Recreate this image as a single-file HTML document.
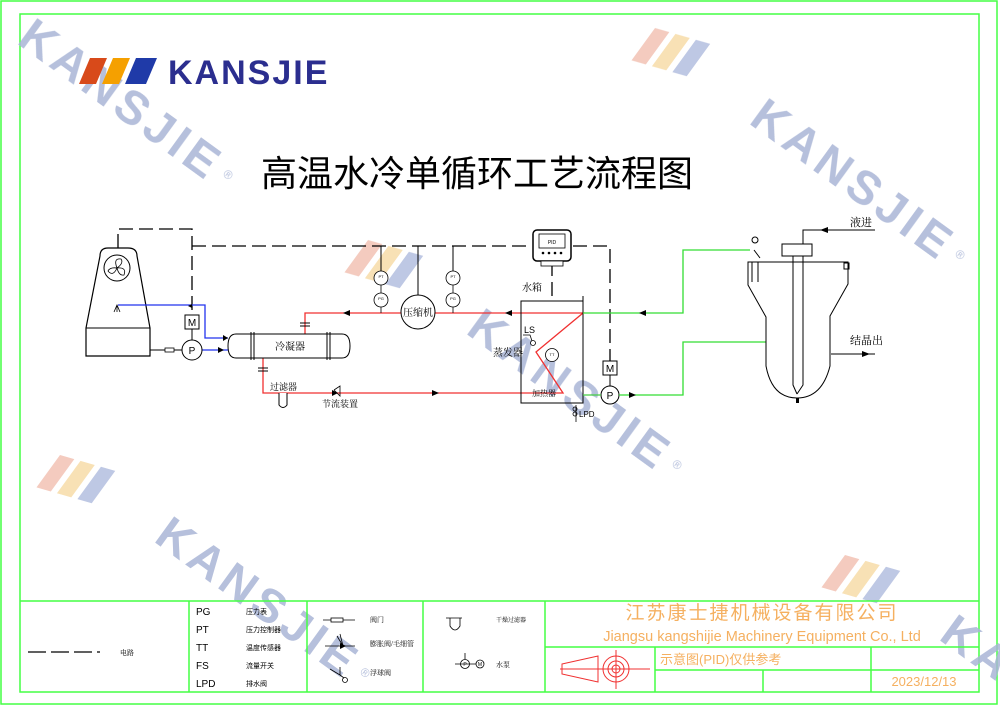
<!DOCTYPE html>
<html><head><meta charset="utf-8"><style>
html,body{margin:0;padding:0;background:#fff;width:1000px;height:706px;overflow:hidden}
svg{display:block}
text{font-family:"Liberation Sans","Noto Sans CJK SC",sans-serif}
.s{font-family:"Liberation Serif","Noto Serif CJK SC",serif}
.wm{font-family:"Liberation Sans",sans-serif;font-weight:bold;fill:#a9b5d6;font-size:47px;letter-spacing:5px}
</style></head><body>
<svg width="1000" height="706" viewBox="0 0 1000 706" xmlns="http://www.w3.org/2000/svg" overflow="hidden">
<defs>
<g id="st"><polygon points="0,0 14,0 14,40 0,40" fill="#f2c2b4" transform="skewY(-20)"/><polygon points="20,0 34,0 34,40 20,40" fill="#f7dca8" transform="skewY(-20)"/><polygon points="40,0 54,0 54,40 40,40" fill="#b3bedf" transform="skewY(-20)"/></g>
</defs>
<!-- frames -->
<rect x="1" y="1" width="996" height="703" fill="none" stroke="#4f4" stroke-width="1.5"/>
<rect x="20" y="14" width="959" height="678" fill="none" stroke="#4f4" stroke-width="1.5"/>

<!-- watermarks -->
<g opacity="0.85">
<g transform="translate(38,12) rotate(36)"><text class="wm" x="0" y="38">KANSJIE</text><text x="245" y="24" font-size="12" fill="#a9b5d6">®</text></g>
<g transform="translate(655,28) rotate(36)"><use href="#st"/></g>
<g transform="translate(770,92) rotate(36)"><text class="wm" x="0" y="38">KANSJIE</text><text x="245" y="24" font-size="12" fill="#a9b5d6">®</text></g>
<g transform="translate(368,240) rotate(36)"><use href="#st"/></g>
<g transform="translate(487,302) rotate(36)"><text class="wm" x="0" y="38">KANSJIE</text><text x="245" y="24" font-size="12" fill="#a9b5d6">®</text></g>
<g transform="translate(60,455) rotate(36)"><use href="#st"/></g>
<g transform="translate(175,510) rotate(36)"><text class="wm" x="0" y="38">KANSJIE</text><text x="245" y="24" font-size="12" fill="#a9b5d6">®</text></g>
<g transform="translate(845,555) rotate(36)"><use href="#st"/></g>
<g transform="translate(960,608) rotate(36)"><text class="wm" x="0" y="38">KANSJIE</text></g>
</g>

<!-- logo -->
<polygon points="90,58 107,58 96,84 79,84" fill="#d84a1a"/>
<polygon points="113,58 130,58 119,84 102,84" fill="#f5a000"/>
<polygon points="136,58 157,58 146,84 125,84" fill="#1f3aa8"/>
<text x="168" y="84" font-size="34" font-weight="bold" fill="#2b2e8f" letter-spacing="2">KANSJIE</text>

<!-- title -->
<text x="477" y="186" font-size="36" text-anchor="middle" font-family="'Liberation Sans','Noto Sans CJK SC',sans-serif">高温水冷单循环工艺流程图</text>

<!-- dashed electrical -->
<g stroke="#000" stroke-width="1.3" fill="none" stroke-dasharray="14,6">
<path d="M118,248 V229 H192 V315"/>
<path d="M192,246 H530"/>
<path d="M573,246 H610 V361"/>
<path d="M552,262 V301"/>
</g>
<g stroke="#000" stroke-width="1" fill="none">
<path d="M381,246 V271 M453,246 V271 M418,246 V295"/>
</g>

<!-- cooling tower -->
<path d="M100,256 Q100,248 108,248 L128,248 Q137,248 137,256 L150,328 L150,356 L86,356 L86,328 Z" fill="#fff" stroke="#000" stroke-width="1.2"/>
<line x1="86" y1="328" x2="150" y2="328" stroke="#000"/>
<circle cx="117" cy="268" r="13" fill="none" stroke="#000"/>
<path d="M117,268 q-4,-10 4,-9 q3,4 -4,9 q10,-1 7,7 q-5,1 -7,-7 q-4,9 -9,3 q2,-4 9,-3" fill="none" stroke="#000" stroke-width="0.8"/>
<path d="M114,312 L117,305 L120,312 M117,305 V312" stroke="#000" fill="none" stroke-width="0.8"/>
<path d="M118,305 H205 V338 H228" stroke="#2233ee" stroke-width="1.3" fill="none"/>
<path d="M150,350 H182" stroke="#000" stroke-width="1" fill="none"/>
<path d="M202,350 H228" stroke="#2233ee" stroke-width="1.3" fill="none"/>
<path d="M192,304 l-4,2 l4,2z" fill="#000"/>
<polygon points="218,347 224,350 218,353" fill="#000"/>
<polygon points="223,335 228,338 223,341" fill="#000"/>
<rect x="165" y="348" width="9" height="4" fill="#fff" stroke="#000" stroke-width="0.8"/>
<rect x="185" y="315" width="14" height="14" fill="#fff" stroke="#000"/><text x="192" y="326" font-size="10" text-anchor="middle">M</text>
<line x1="192" y1="329" x2="192" y2="340" stroke="#000"/>
<circle cx="192" cy="350" r="10" fill="#fff" stroke="#000"/><text x="192" y="354" font-size="10" text-anchor="middle">P</text>

<!-- red refrigerant -->
<g stroke="#f03030" stroke-width="1.3" fill="none">
<path d="M305,334 V313 H583 L536,352 L563,393 H263 V358"/>
</g>
<polygon points="350,310 343,313 350,316" fill="#000"/>
<polygon points="512,310 505,313 512,316" fill="#000"/>
<polygon points="432,390 439,393 432,396" fill="#000"/>
<g stroke="#000" stroke-width="1"><line x1="300" y1="323" x2="310" y2="323"/><line x1="300" y1="326" x2="310" y2="326"/><line x1="258" y1="368" x2="268" y2="368"/><line x1="258" y1="371" x2="268" y2="371"/></g>
<path d="M236,334 H342 Q350,334 350,346 Q350,358 342,358 H236 Q228,358 228,346 Q228,334 236,334Z" fill="#fff" stroke="#000"/>
<line x1="251" y1="332" x2="251" y2="360" stroke="#000"/><line x1="254" y1="332" x2="254" y2="360" stroke="#000"/>
<line x1="327" y1="332" x2="327" y2="360" stroke="#000"/><line x1="330" y1="332" x2="330" y2="360" stroke="#000"/>
<text x="290" y="350" font-size="10" text-anchor="middle" class="s">冷凝器</text>
<path d="M279,393 V405 Q283,410 287,405 V393" fill="#fff" stroke="#000"/>
<text x="270" y="390" font-size="9" class="s">过滤器</text>
<path d="M334,390 L340,396 L340,386 L334,390" fill="none" stroke="#000" stroke-width="0.8"/>
<polygon points="332,390 338,393 332,396" fill="#000"/>
<text x="322" y="407" font-size="9" class="s">节流装置</text>
<circle cx="418" cy="312" r="17" fill="#fff" stroke="#000"/>
<text x="418" y="316" font-size="10" text-anchor="middle" class="s">压缩机</text>
<g fill="#fff" stroke="#000" stroke-width="0.8">
<circle cx="381" cy="278" r="7"/><circle cx="381" cy="300" r="7"/><circle cx="453" cy="278" r="7"/><circle cx="453" cy="300" r="7"/>
</g>
<g stroke="#000" stroke-width="0.8"><line x1="381" y1="285" x2="381" y2="293"/><line x1="381" y1="307" x2="381" y2="313"/><line x1="453" y1="285" x2="453" y2="293"/><line x1="453" y1="307" x2="453" y2="313"/></g>
<g font-size="4" text-anchor="middle"><text x="381" y="278">PT</text><text x="381" y="300">PG</text><text x="453" y="278">PT</text><text x="453" y="300">PG</text></g>
<!-- PID -->
<rect x="533" y="230" width="38" height="31" rx="4" fill="#fff" stroke="#000" stroke-width="1.5"/>
<rect x="539" y="234" width="26" height="14" fill="#fff" stroke="#000" stroke-width="0.8"/>
<text x="552" y="244" font-size="5" text-anchor="middle">PID</text>
<g fill="#000"><circle cx="543" cy="253" r="1.3"/><circle cx="549" cy="253" r="1.3"/><circle cx="555" cy="253" r="1.3"/><circle cx="561" cy="253" r="1.3"/></g>
<rect x="541" y="261" width="22" height="5" fill="#fff" stroke="#000" stroke-width="0.8"/>
<!-- tank -->
<text x="522" y="291" font-size="10" class="s">水箱</text>
<rect x="521" y="301" width="62" height="102" fill="none" stroke="#000" stroke-width="1"/>
<path d="M583,301 V296" stroke="#000"/>
<text x="524" y="333" font-size="9">LS</text>
<path d="M523,335 H530 L532,341" stroke="#000" fill="none" stroke-width="0.8"/><circle cx="533" cy="343" r="2.5" fill="#fff" stroke="#000" stroke-width="0.8"/>
<circle cx="552" cy="355" r="6.5" fill="#fff" stroke="#000" stroke-width="0.8"/><text x="552" y="356" font-size="4" text-anchor="middle">TT</text>
<text x="493" y="356" font-size="10" class="s">蒸发器</text>
<text x="532" y="396" font-size="8" class="s">加热器</text>
<path d="M576,405 V422" stroke="#000" stroke-width="0.8"/><circle cx="575" cy="409" r="2" fill="none" stroke="#000" stroke-width="0.8"/><circle cx="575" cy="414" r="2" fill="none" stroke="#000" stroke-width="0.8"/>
<text x="579" y="417" font-size="8">LPD</text>
<rect x="603" y="361" width="14" height="14" fill="#fff" stroke="#000"/><text x="610" y="372" font-size="10" text-anchor="middle">M</text>
<line x1="610" y1="375" x2="610" y2="386" stroke="#000"/>
<circle cx="610" cy="395" r="9" fill="#fff" stroke="#000"/><text x="610" y="399" font-size="10" text-anchor="middle">P</text>
<line x1="583" y1="395" x2="601" y2="395" stroke="#4c4" stroke-width="1.3"/>
<g stroke="#33dd33" stroke-width="1.3" fill="none">
<path d="M583,313 H683 V250 H750"/>
<path d="M619,395 H683 V342 H766"/>
</g>
<polygon points="646,310 639,313 646,316" fill="#000"/>
<polygon points="629,392 636,395 629,398" fill="#000"/>
<!-- crystallizer -->
<g stroke="#000" stroke-width="1" fill="none">
<path d="M748,262 H848 V284 L830,316 V366 Q822,398 797,398 Q772,398 766,366 V317 L748,285 Z"/>
<rect x="782" y="244" width="30" height="12"/>
<path d="M793,256 V262 M803,256 V262 M793,262 V385 L797,394 M803,262 V385 L797,394"/>
<path d="M803,244 V230 H875"/>
<path d="M831,354 H875"/>
<path d="M752,262 V282 M758,262 V282 M754,250 L760,258"/>
</g>
<polygon points="828,227 820,230 828,233" fill="#000"/>
<polygon points="862,351 870,354 862,357" fill="#000"/>
<circle cx="755" cy="240" r="3" fill="none" stroke="#000"/>
<rect x="844" y="263" width="5" height="6" fill="none" stroke="#000"/>
<rect x="796" y="398" width="3" height="5" fill="#000"/>
<text x="850" y="226" font-size="11" class="s">液进</text>
<text x="850" y="344" font-size="11" class="s">结晶出</text>

<!-- legend table -->
<g stroke="#4f4" stroke-width="1.5" fill="none">
<line x1="20" y1="601" x2="979" y2="601"/>
<line x1="189" y1="601" x2="189" y2="692"/>
<line x1="307" y1="601" x2="307" y2="692"/>
<line x1="423" y1="601" x2="423" y2="692"/>
<line x1="545" y1="601" x2="545" y2="692"/>
<line x1="545" y1="647" x2="979" y2="647"/>
<line x1="655" y1="670" x2="979" y2="670"/>
<line x1="655" y1="647" x2="655" y2="692"/>
<line x1="763" y1="670" x2="763" y2="692"/>
<line x1="871" y1="647" x2="871" y2="692"/>
</g>
<line x1="28" y1="652" x2="100" y2="652" stroke="#000" stroke-width="1.3" stroke-dasharray="18,5"/>
<text x="120" y="655" font-size="7" class="s">电路</text>
<g font-size="10"><text x="196" y="615">PG</text><text x="196" y="633">PT</text><text x="196" y="651">TT</text><text x="196" y="669">FS</text><text x="196" y="687">LPD</text></g>
<g font-size="7" class="s"><text x="246" y="614">压力表</text><text x="246" y="632">压力控制器</text><text x="246" y="650">温度传感器</text><text x="246" y="668">流量开关</text><text x="246" y="686">排水阀</text></g>
<path d="M323,620 H355" stroke="#000" stroke-width="0.8"/><rect x="331" y="618" width="12" height="4" fill="#fff" stroke="#000" stroke-width="0.8"/>
<text x="370" y="622" font-size="7" class="s">阀门</text>
<path d="M325,646 H355 M337,636 L343,646 L340,634" stroke="#000" fill="none" stroke-width="0.8"/><polygon points="340,643 346,646 340,649" fill="#000"/>
<text x="370" y="646" font-size="7" class="s">膨胀阀/毛细管</text>
<path d="M330,669 L340,675 L340,667 M340,675 L344,678" stroke="#000" fill="none" stroke-width="0.8"/><circle cx="345" cy="680" r="2.5" fill="none" stroke="#000" stroke-width="0.8"/>
<text x="370" y="675" font-size="7" class="s">浮球阀</text>
<path d="M446,618 H462 M450,618 V626 Q455,634 460,626 V618" stroke="#000" fill="none" stroke-width="0.8"/>
<text x="496" y="622" font-size="6" class="s">干燥过滤器</text>
<circle cx="465" cy="664" r="4.5" fill="none" stroke="#000" stroke-width="0.8"/><text x="465" y="666" font-size="5" text-anchor="middle">P</text>
<circle cx="480" cy="664" r="4" fill="none" stroke="#000" stroke-width="0.8"/><text x="480" y="666" font-size="5" text-anchor="middle">M</text>
<path d="M455,664 H476 M465,659 V653" stroke="#000" fill="none" stroke-width="0.8"/>
<text x="496" y="667" font-size="7" class="s">水泵</text>
<g fill="#f5b060" font-family="'Liberation Mono','Noto Sans CJK SC',monospace">
<text x="762" y="619" font-size="19" text-anchor="middle" letter-spacing="2">江苏康士捷机械设备有限公司</text>
<text x="762" y="641" font-size="14.5" text-anchor="middle">Jiangsu kangshijie Machinery Equipment Co., Ltd</text>
<text x="660" y="664" font-size="13">示意图(PID)仅供参考</text>
<text x="924" y="686" font-size="13" text-anchor="middle">2023/12/13</text>
</g>
<g stroke="#f03030" stroke-width="1" fill="none">
<path d="M560,669 H650 M616,650 V689 M562,664 L598,656 V682 L562,674 Z"/>
<circle cx="616" cy="669" r="13"/><circle cx="616" cy="669" r="8"/><circle cx="616" cy="669" r="4"/>
</g>
</svg>
</body></html>
